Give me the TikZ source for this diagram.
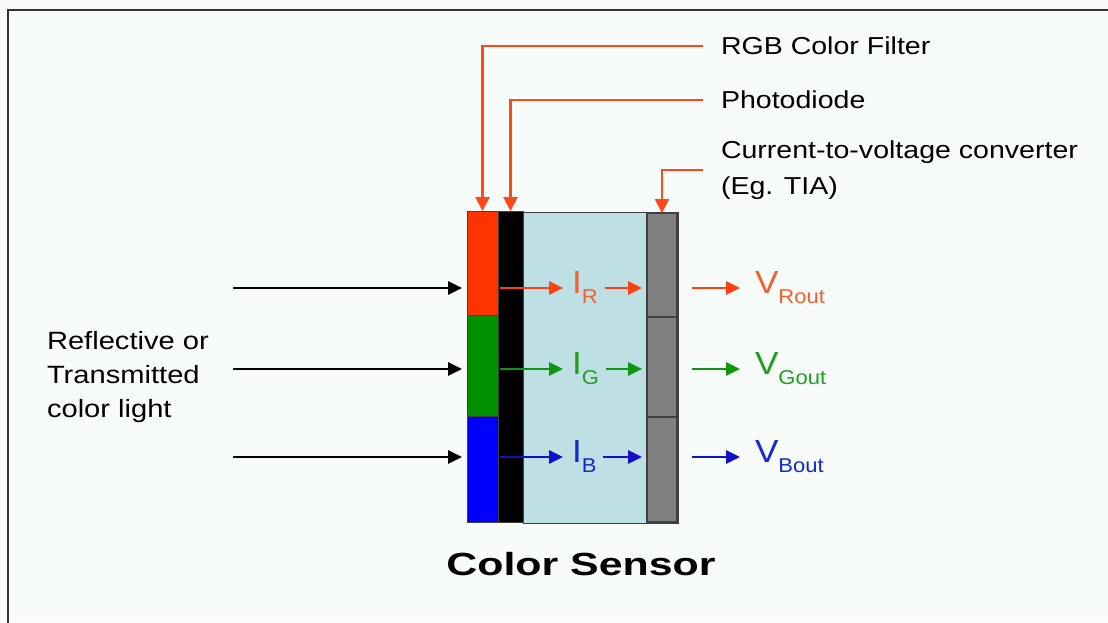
\documentclass[tikz,border=0pt]{standalone}
\usepackage{fontspec}
\setmainfont{Liberation Sans}
\newfontfamily\lblfont[FakeStretch=1.165]{Liberation Sans}
\newfontfamily\symfont[FakeStretch=1.1]{Liberation Sans}
\newfontfamily\ttlfont[FakeStretch=1.34]{Liberation Sans}
\usetikzlibrary{arrows.meta, positioning}

\definecolor{pagebg}{RGB}{247,251,249}
\definecolor{filtred}{RGB}{255,51,0}
\definecolor{filtgreen}{RGB}{0,145,0}
\definecolor{filtblue}{RGB}{0,0,255}
\definecolor{ampcyan}{RGB}{190,224,228}
\definecolor{convgrey}{RGB}{128,128,128}
\definecolor{callred}{RGB}{255,72,24}
\definecolor{arrred}{RGB}{255,64,16}
\definecolor{arrgreen}{RGB}{16,150,16}
\definecolor{arrblue}{RGB}{16,16,200}
\definecolor{txtred}{RGB}{240,96,48}
\definecolor{txtgreen}{RGB}{30,160,30}
\definecolor{txtblue}{RGB}{20,40,210}

\newcommand{\lowtag}[1]{\raisebox{-10pt}{\fontsize{20}{20}\selectfont #1}}

\begin{document}
\begin{tikzpicture}[
    x=1pt, y=-1pt,
    every node/.style={inner sep=0pt, outer sep=0pt},
    layer/.style={rectangle, draw=black!75, line width=1pt, anchor=north west},
    conv/.style={layer, fill=convgrey, line width=1.4pt, minimum width=30pt},
    tag/.style={font=\lblfont\fontsize{24.5}{36}\selectfont, anchor=west, align=left},
    sym/.style={font=\symfont\fontsize{32}{32}\selectfont, anchor=base west},
    callout/.style={color=callred, line width=2.6pt, -{Triangle[length=14pt,width=14pt]}},
    arrow/.style={line width=2.6pt, -{Triangle[length=14pt,width=13pt]}}
]
\fill[pagebg] (0,0) rectangle (1108,622);
\useasboundingbox (0,0) rectangle (1108,622);
\draw[line width=2.6pt, draw=black!80] (8,623) -- (8,10) -- (1109,10);

% Sensor layers
\node[layer, fill=ampcyan, minimum width=155pt, minimum height=311pt] (amp) at (523,212) {};
\node[layer, fill=black, minimum width=25pt, minimum height=311pt] (diode) at (498,211) {};
\node[layer, fill=filtred, minimum width=31pt, minimum height=104pt] (filterR) at (467,211) {};
\node[layer, fill=filtgreen, minimum width=31pt, minimum height=101pt] (filterG) at (467,315) {};
\node[layer, fill=filtblue, minimum width=31pt, minimum height=106pt] (filterB) at (467,416) {};
\node[conv, minimum height=104pt] (convR) at (647,213) {};
\node[conv, minimum height=100pt] (convG) at (647,317) {};
\node[conv, minimum height=105pt] (convB) at (647,417) {};

% Labels
\node[tag] (lblRGB) at (721,46) {RGB Color Filter};
\node[tag] (lblDiode) at (721,100) {Photodiode};
\node[tag] (lblConv) at (721,170) {Current-to-voltage converter\\(Eg. TIA)};
\node[tag, font=\lblfont\fontsize{25}{34}\selectfont] (light) at (47,377) {Reflective or\\Transmitted\\color light};
\node[font=\ttlfont\bfseries\fontsize{32}{32}\selectfont] (title) at (581,564) {Color Sensor};

\node[sym, text=txtred] (iR) at (572,293) {I\lowtag{R}};
\node[sym, text=txtgreen] (iG) at (572,374) {I\lowtag{G}};
\node[sym, text=txtblue] (iB) at (572,462) {I\lowtag{B}};
\node[sym, text=txtred] (vR) at (755,293) {V\lowtag{Rout}};
\node[sym, text=txtgreen] (vG) at (755,374) {V\lowtag{Gout}};
\node[sym, text=txtblue] (vB) at (755,462) {V\lowtag{Bout}};

% Rows
\coordinate (srcR) at (233,288);
\coordinate (srcG) at (233,369);
\coordinate (srcB) at (233,457);

% Callouts
\draw[callout] ([xshift=-18pt]lblRGB.west) -| (filterR.north);
\draw[callout] ([xshift=-18pt]lblDiode.west) -| (diode.north);
\draw[callout] ([xshift=-18pt]lblConv.west) -| (convR.north);

% Paths
\draw[arrow, shorten >=5pt] (srcR) -- (srcR -| filterR.west);
\draw[arrow, shorten >=5pt] (srcG) -- (srcG -| filterG.west);
\draw[arrow, shorten >=5pt] (srcB) -- (srcB -| filterB.west);

\draw[arrow, color=arrred, shorten <=2pt, shorten >=9pt] (srcR -| diode.west) -- (srcR -| iR.west);
\draw[arrow, color=arrgreen, shorten <=2pt, shorten >=9pt] (srcG -| diode.west) -- (srcG -| iG.west);
\draw[arrow, color=arrblue, shorten <=2pt, shorten >=9pt] (srcB -| diode.west) -- (srcB -| iB.west);

\draw[arrow, color=arrred, shorten <=7pt, shorten >=5pt] (srcR -| iR.east) -- (srcR -| convR.west);
\draw[arrow, color=arrgreen, shorten <=7pt, shorten >=5pt] (srcG -| iG.east) -- (srcG -| convG.west);
\draw[arrow, color=arrblue, shorten <=7pt, shorten >=5pt] (srcB -| iB.east) -- (srcB -| convB.west);

\draw[arrow, color=arrred, shorten <=15pt, shorten >=15pt] (srcR -| convR.east) -- (srcR -| vR.west);
\draw[arrow, color=arrgreen, shorten <=15pt, shorten >=15pt] (srcG -| convG.east) -- (srcG -| vG.west);
\draw[arrow, color=arrblue, shorten <=15pt, shorten >=15pt] (srcB -| convB.east) -- (srcB -| vB.west);

\end{tikzpicture}
\end{document}
